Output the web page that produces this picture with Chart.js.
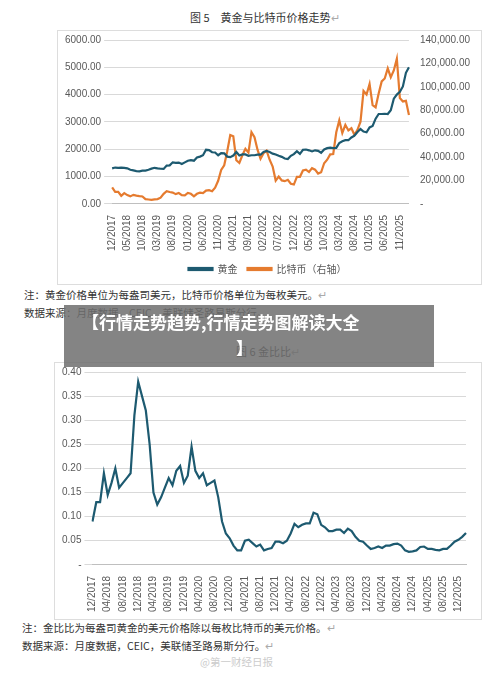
<!DOCTYPE html>
<html><head><meta charset="utf-8">
<script src="https://cdn.jsdelivr.net/npm/chart.js@4"></script>
<style>
body{margin:0;width:500px;height:673px;background:#fff;position:relative;overflow:hidden;font-family:"Noto Sans CJK SC","Noto Sans",sans-serif;color:#333}
.t{position:absolute;white-space:nowrap}
.box{position:absolute;border:1px solid #ddd;background:#fff}
</style></head><body>
<div class="t" style="left:190px;top:9px;font-size:11px">图 5　黄金与比特币价格走势<span style="color:#aaa">↵</span></div>
<div class="box" style="left:57px;top:30px;width:423px;height:253px"><canvas id="c1" width="423" height="253"></canvas></div>
<div class="t" style="left:24px;top:287px;font-size:10.5px">注：黄金价格单位为每盎司美元，比特币价格单位为每枚美元。<span style="color:#aaa">↵</span></div>
<div class="t" style="left:24px;top:305px;font-size:10.5px">数据来源：月度数据，CEIC，美联储圣路易斯分行。</div>
<div class="t" style="left:236px;top:343px;font-size:11px">图 6 金比比<span style="color:#aaa">↵</span></div>
<div class="box" style="left:54px;top:362px;width:426px;height:256px"><canvas id="c2" width="426" height="256"></canvas></div>
<div class="t" style="left:22px;top:620px;font-size:10.5px">注：金比比为每盎司黄金的美元价格除以每枚比特币的美元价格。<span style="color:#aaa">↵</span></div>
<div class="t" style="left:22px;top:638px;font-size:10.5px">数据来源：月度数据，CEIC，美联储圣路易斯分行。<span style="color:#aaa">↵</span></div>
<div class="t" style="left:200px;top:654px;font-size:10.5px;color:#ccc">@第一财经日报</div>
<div style="position:absolute;left:64px;top:305px;width:370px;height:62px;background:rgba(110,110,110,0.85)"></div>
<div class="t" style="left:82px;top:309px;font-size:17px;font-weight:bold;color:#fff">【行情走势趋势,行情走势图解读大全</div>
<div class="t" style="left:236px;top:335px;font-size:17px;font-weight:bold;color:#fff">】</div>
<script>
const labels=[];
for(let i=0;i<99;i++){const m=(11+i)%12+1,y=2017+Math.floor((11+i)/12);labels.push(String(m).padStart(2,'0')+'/'+y);}
const gold=[1300,
1330,1320,1325,1320,1300,1250,1225,1200,1190,1215,1220,1250,
1290,1320,1300,1285,1280,1400,1410,1520,1500,1510,1460,1520,
1580,1600,1580,1700,1730,1780,1980,1970,1890,1880,1780,1860,
1850,1730,1710,1770,1900,1770,1810,1810,1760,1780,1780,1800,
1800,1900,1940,1900,1840,1810,1760,1720,1660,1640,1760,1820,
1930,1830,1980,1990,1960,1920,1960,1940,1870,1990,2040,2060,
2040,2050,2230,2290,2330,2330,2430,2500,2630,2740,2650,2620,
2800,2850,3120,3290,3290,3300,3290,3430,3850,4000,4100,4300,
4800,5000];
const btc=[14000,
10200,10300,6900,9200,7500,6400,7700,7000,6600,6300,4000,3700,
3400,3800,4100,5300,8600,10800,10100,9600,8300,9200,7500,7200,
9300,8600,6400,8600,9500,9100,11300,11700,10800,13800,19700,29000,
33000,45000,58800,57700,37300,35000,41500,47100,43800,61300,57000,46300,
38500,43200,45500,37700,31800,19900,23300,20000,19400,20500,17200,16500,
23100,23100,28500,29200,27200,30500,29200,25900,27000,34700,37700,42300,
42600,61200,71300,60600,67500,62700,64600,59000,63300,70200,96400,93400,
102400,84400,82500,94200,104600,107100,115800,108200,114000,124000,90400,87500,
88000,76000];
const ratio=[0.09,
0.13,0.13,0.19,0.145,0.17,0.20,0.16,0.17,0.18,0.19,0.31,0.38,
0.35,0.32,0.25,0.15,0.125,0.14,0.16,0.18,0.165,0.195,0.205,0.17,
0.185,0.245,0.195,0.18,0.19,0.165,0.17,0.175,0.14,0.09,0.065,0.055,
0.04,0.03,0.03,0.05,0.052,0.045,0.038,0.042,0.03,0.033,0.035,0.048,
0.048,0.045,0.05,0.065,0.085,0.078,0.083,0.086,0.086,0.108,0.105,0.083,
0.078,0.07,0.07,0.073,0.073,0.066,0.075,0.07,0.058,0.05,0.048,0.04,
0.033,0.035,0.038,0.035,0.04,0.04,0.043,0.044,0.04,0.03,0.027,0.028,
0.03,0.037,0.038,0.033,0.033,0.031,0.03,0.033,0.033,0.04,0.048,0.052,
0.058,0.066];
const teal='#1d5a70',orange='#e57b2f',grid='#d9d9d9',tc='#595959';
const fnt={family:'Liberation Sans, Arial',size:10};
Chart.defaults.animation=false;
function xAxis(step){return{grid:{display:false,drawTicks:true},border:{color:'#bfbfbf'},ticks:{autoSkip:false,maxRotation:90,minRotation:90,color:tc,font:fnt,callback:(v,i)=>i%step===0?labels[i]:''}}}
new Chart(document.getElementById('c1'),{type:'line',data:{labels,datasets:[
{label:'黄金',data:gold,borderColor:teal,backgroundColor:teal,borderWidth:2.2,pointRadius:0,yAxisID:'y',tension:0},
{label:'比特币（右轴）',data:btc,borderColor:orange,backgroundColor:orange,borderWidth:2.2,pointRadius:0,yAxisID:'y1',tension:0}]},
options:{responsive:false,layout:{padding:{top:6,right:8,left:4}},plugins:{legend:{position:'bottom',labels:{boxWidth:24,boxHeight:2,color:tc,font:{family:'Noto Sans CJK SC',size:10}}},tooltip:{enabled:false}},
scales:{x:xAxis(5),
y:{min:0,max:6000,ticks:{stepSize:1000,color:tc,font:fnt,callback:v=>v.toFixed(2)},grid:{color:grid},border:{display:false}},
y1:{position:'right',min:0,max:140000,ticks:{stepSize:20000,color:tc,font:fnt,callback:v=>v===0?'-':v.toLocaleString('en-US',{minimumFractionDigits:2})},grid:{display:false},border:{display:false}}}}});
new Chart(document.getElementById('c2'),{type:'line',data:{labels,datasets:[
{label:'金比比',data:ratio,borderColor:teal,borderWidth:2.2,pointRadius:0,tension:0}]},
options:{responsive:false,layout:{padding:{top:8,right:12,left:4,bottom:4}},plugins:{legend:{display:false},tooltip:{enabled:false}},
scales:{x:xAxis(4),
y:{min:0,max:0.4,ticks:{stepSize:0.05,color:tc,font:fnt,callback:v=>v===0?'-':v.toFixed(2)},grid:{color:grid},border:{display:false}}}}});
</script></body></html>
